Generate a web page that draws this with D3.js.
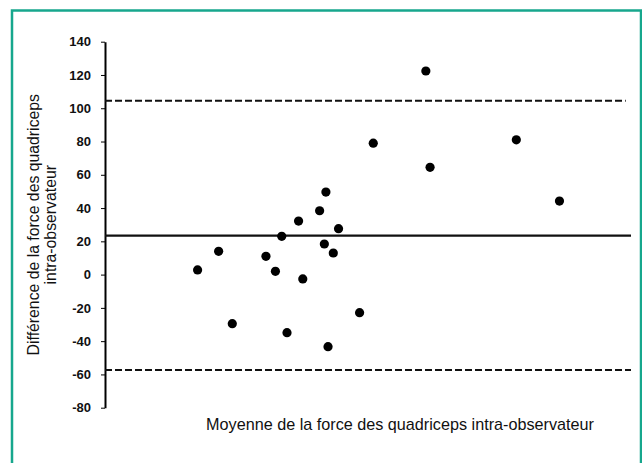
<!DOCTYPE html>
<html>
<head>
    <meta charset="utf-8">
    <style>
        body {
            margin: 0;
            background: #fff;
            font-family: Arial, "Liberation Sans", sans-serif;
        }
        .frame {
            fill: none;
            stroke: #17a78d;
            stroke-width: 2.5px;
        }
        .axis path, .axis line {
            stroke: #000;
        }
        .axis path {
            stroke-width: 2px;
        }
        .axis text {
            font-size: 13px;
            font-weight: bold;
            fill: #111;
        }
        .dot {
            fill: #000;
        }
        .label {
            font-size: 15.8px;
            fill: #111;
        }
    </style>
</head>
<body>
<svg id="chart" width="642" height="463"></svg>
<script src="https://cdn.jsdelivr.net/npm/d3@7"></script>
<script>
// moyenne (unités arbitraires, pas de graduation sur l'axe x)
var meanValues = [88, 108, 121, 153, 162, 168, 173, 184, 188, 204, 208.5, 210, 212, 217, 222, 242, 255, 305, 309, 391, 432];
// différence entre les deux mesures
var diffValues = [2.8, 14, -29.5, 11, 2, 23, -34.9, 32.2, -2.6, 38.4, 18.4, 49.6, -43.3, 13, 27.6, -22.9, 79, 122.4, 64.5, 81, 44.2];
var yTicks = [-80, -60, -40, -20, 0, 20, 40, 60, 80, 100, 120, 140];
var biasLine = [23.4];
var limitLines = [104.5, -57.3];
var yTitle = ["Différence de la force des quadriceps", "intra-observateur"];
var xTitle = "Moyenne de la force des quadriceps intra-observateur";

var svg = d3.select("#chart");

// cadre vert
svg.append("rect")
    .attr("class", "frame")
    .attr("x", 12)
    .attr("y", 10.5)
    .attr("width", 629)
    .attr("height", 520);

var x = d3.scaleLinear().domain([0, 500]).range([105, 631]);
var y = d3.scaleLinear().domain([-80, 140]).range([407.7, 41.7]);

svg.append("g")
    .attr("class", "axis")
    .attr("transform", "translate(" + x(0) + ",0)")
    .call(d3.axisLeft(y)
        .tickValues(yTicks)
        .tickSize(4)
        .tickSizeOuter(0)
        .tickPadding(10)
        .tickFormat(function(d) { return String(d); }));

// moyenne des différences
svg.selectAll("line.bias")
    .data(biasLine)
    .enter().append("line")
    .attr("class", "bias")
    .attr("x1", x(0))
    .attr("x2", x(500))
    .attr("y1", function(d) { return y(d); })
    .attr("y2", function(d) { return y(d); })
    .attr("stroke", "#111")
    .attr("stroke-width", 2.2);

// limites d'agrément
svg.selectAll("line.limit")
    .data(limitLines)
    .enter().append("line")
    .attr("class", "limit")
    .attr("x1", x(0))
    .attr("x2", function(d, i) { return i === 0 ? x(495) : x(500); })
    .attr("y1", function(d) { return y(d); })
    .attr("y2", function(d) { return y(d); })
    .attr("stroke", "#111")
    .attr("stroke-width", 2)
    .attr("stroke-dasharray", "7,3");

svg.selectAll("circle.dot")
    .data(meanValues)
    .enter().append("circle")
    .attr("class", "dot")
    .attr("cx", function(d) { return x(d); })
    .attr("cy", function(d, i) { return y(diffValues[i]); })
    .attr("r", 4.6);

// titres des axes
var midY = (y(-80) + y(140)) / 2;
svg.append("text")
    .attr("class", "label")
    .attr("transform", "translate(39," + midY + ") rotate(-90)")
    .attr("text-anchor", "middle")
    .text(yTitle[0]);
svg.append("text")
    .attr("class", "label")
    .attr("transform", "translate(56," + midY + ") rotate(-90)")
    .attr("text-anchor", "middle")
    .text(yTitle[1]);

svg.append("text")
    .attr("class", "label")
    .attr("x", 400)
    .attr("y", 430)
    .attr("text-anchor", "middle")
    .style("font-size", "16.2px")
    .text(xTitle);
</script>
</body>
</html>
